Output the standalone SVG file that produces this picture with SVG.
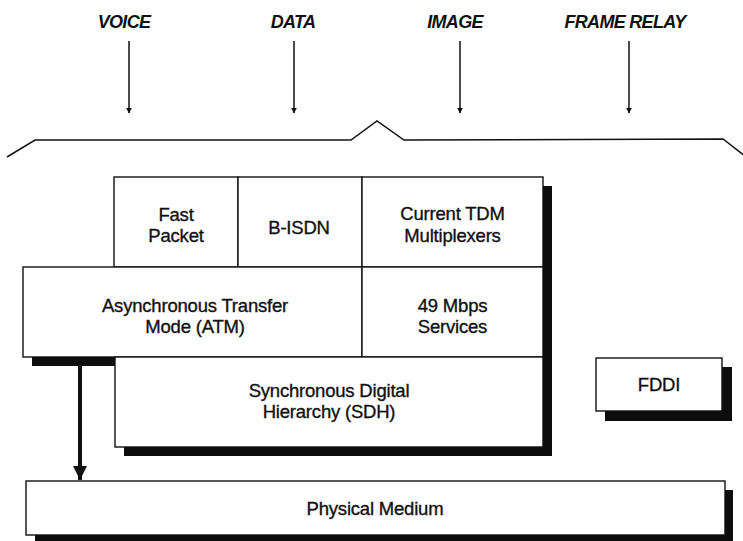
<svg xmlns="http://www.w3.org/2000/svg" width="743" height="541" viewBox="0 0 743 541">
  <defs>
    <style>
      .box { fill: #fff; stroke: #111; stroke-width: 1.4; }
      .shadow { fill: #0d0d0d; stroke: none; }
      .lbl { font-family: "Liberation Sans", Arial, sans-serif; font-size: 18.5px; fill: #111; stroke: #111; stroke-width: 0.35; text-anchor: middle; letter-spacing: -0.2px; }
      .svc { font-family: "Liberation Sans", Arial, sans-serif; font-size: 18px; font-weight: bold; font-style: italic; fill: #111; text-anchor: middle; letter-spacing: -0.7px; }
      .thin { stroke: #111; stroke-width: 1.5; fill: none; }
      .thick { stroke: #111; stroke-width: 4; fill: none; }
    </style>
    <marker id="headSmall" viewBox="0 0 10 10" refX="9" refY="5" markerWidth="6" markerHeight="8" markerUnits="userSpaceOnUse" orient="auto">
      <path d="M0,0 L10,5 L0,10 Z" fill="#111"/>
    </marker>
    <marker id="headBig" viewBox="0 0 10 10" refX="10" refY="5" markerWidth="14" markerHeight="14" markerUnits="userSpaceOnUse" orient="auto">
      <path d="M0,0 L10,5 L0,10 Z" fill="#111"/>
    </marker>
  </defs>

  <!-- service labels -->
  <g id="services">
    <text class="svc" x="124" y="28">VOICE</text>
    <text class="svc" x="293" y="28">DATA</text>
    <text class="svc" x="455" y="28">IMAGE</text>
    <text class="svc" x="625" y="28">FRAME RELAY</text>
  </g>

  <!-- connectors -->
  <g id="connectors">
    <line class="thin" x1="129" y1="41" x2="129" y2="113" marker-end="url(#headSmall)"/>
    <line class="thin" x1="294" y1="41" x2="294" y2="113" marker-end="url(#headSmall)"/>
    <line class="thin" x1="460" y1="41" x2="460" y2="113" marker-end="url(#headSmall)"/>
    <line class="thin" x1="629" y1="41" x2="629" y2="113" marker-end="url(#headSmall)"/>
    <!-- brace gathering the services -->
    <polyline class="thin" points="7,157 35,140 351,140 377,121 404,140 723,139 745,156"/>
  </g>

  <!-- drop shadow of the stacked block -->
  <polygon class="shadow" points="123,186 552,186 552,456 124,456 124,366 32,366 32,276 123,276"/>

  <g id="fast-packet">
    <rect class="box" x="114" y="177" width="124" height="90"/>
    <text class="lbl" x="176" y="221">Fast</text>
    <text class="lbl" x="176" y="242">Packet</text>
  </g>
  <g id="b-isdn">
    <rect class="box" x="238" y="177" width="124" height="90"/>
    <text class="lbl" x="299" y="234">B-ISDN</text>
  </g>
  <g id="tdm">
    <rect class="box" x="362" y="177" width="181" height="90"/>
    <text class="lbl" x="452.5" y="220">Current TDM</text>
    <text class="lbl" x="452.5" y="242">Multiplexers</text>
  </g>
  <g id="atm">
    <rect class="box" x="23" y="267" width="339" height="90"/>
    <text class="lbl" x="195" y="312">Asynchronous Transfer</text>
    <text class="lbl" x="195" y="333">Mode (ATM)</text>
  </g>
  <g id="mbps49">
    <rect class="box" x="362" y="267" width="181" height="90"/>
    <text class="lbl" x="452.5" y="312">49 Mbps</text>
    <text class="lbl" x="452.5" y="333">Services</text>
  </g>
  <g id="sdh">
    <rect class="box" x="115" y="357" width="428" height="90"/>
    <text class="lbl" x="329" y="397">Synchronous Digital</text>
    <text class="lbl" x="329" y="418">Hierarchy (SDH)</text>
  </g>

  <g id="fddi">
    <rect class="shadow" x="605" y="367" width="127" height="54"/>
    <rect class="box" x="596" y="358" width="126" height="53"/>
    <text class="lbl" x="659" y="391">FDDI</text>
  </g>

  <g id="physical-medium">
    <rect class="shadow" x="35" y="490" width="698" height="54"/>
    <rect class="box" x="26" y="481" width="699" height="54"/>
    <text class="lbl" x="375" y="515">Physical Medium</text>
  </g>

  <!-- ATM down to the physical medium -->
  <g id="atm-link">
    <line class="thick" x1="80" y1="366" x2="80" y2="480" marker-end="url(#headBig)"/>
  </g>
</svg>
